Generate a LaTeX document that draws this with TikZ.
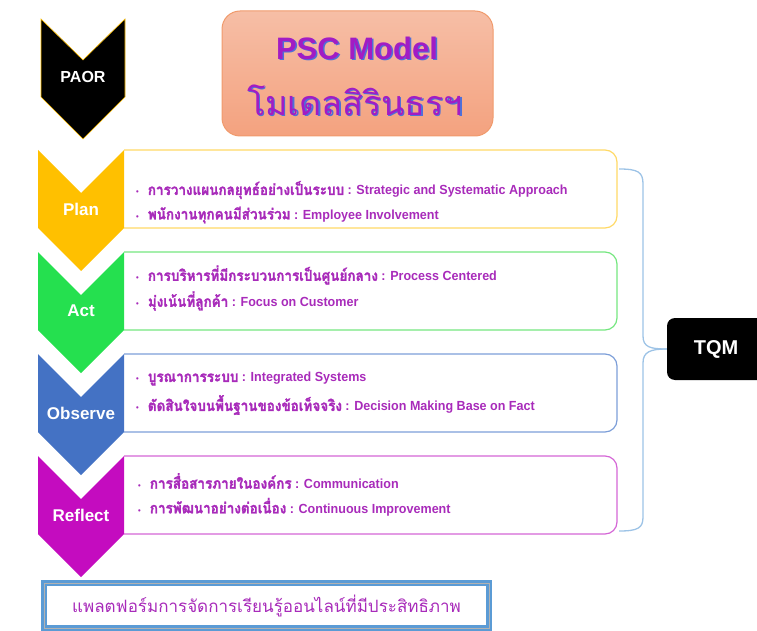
\documentclass[tikz,border=0pt]{standalone}
\usepackage{fontspec}
\setmainfont{Liberation Sans}
\newfontfamily\thaifont[Script=Thai]{Loma}
\newfontfamily\narrowfont[FakeStretch=0.95]{Liberation Sans}
\newfontfamily\thainarrow[Script=Thai,FakeStretch=0.9,FakeBold=1.6]{Loma}
\usetikzlibrary{positioning}
\definecolor{txtpurple}{HTML}{A82BBA}
\definecolor{titlepurple}{HTML}{A21CC4}
\definecolor{shadowblue}{HTML}{4F6FD8}
\definecolor{titletop}{HTML}{F6BEA6}
\definecolor{titlebot}{HTML}{F4A27F}
\definecolor{titleline}{HTML}{F09A6C}
\definecolor{planfill}{HTML}{FFC000}
\definecolor{planline}{HTML}{FFD966}
\definecolor{actfill}{HTML}{25E04F}
\definecolor{actline}{HTML}{74E67F}
\definecolor{obsfill}{HTML}{4472C4}
\definecolor{obsline}{HTML}{7C9ED8}
\definecolor{reflfill}{HTML}{C40CBF}
\definecolor{reflline}{HTML}{D466D6}
\definecolor{bracecol}{HTML}{9DC3E6}
\definecolor{platblue}{HTML}{5B9BD5}
\newcommand{\bitem}[2]{{\fontsize{8}{8}\selectfont\textbullet}\hspace{9pt}{\thainarrow\fontsize{15}{15}\selectfont #1} : #2}

\begin{document}
\begin{tikzpicture}[x=1pt, y=-1pt,
    stage/.style={text=white, font=\fontsize{17}{17}\selectfont\bfseries},
    item/.style={anchor=west, inner sep=0pt, text=txtpurple, font=\narrowfont\fontsize{13.2}{14}\selectfont\bfseries},
    brace/.style={draw=bracecol, line width=1.3pt},
    titlebox/.style={draw=titleline, line width=1pt, rounded corners=18pt, top color=titletop, bottom color=titlebot, minimum width=271pt, minimum height=125pt}]
  \useasboundingbox (0,0) rectangle (757,631);
  % PAOR head and model title
  \filldraw[fill=black, draw=planfill, line width=0.6pt] (41,19) -- (83,60) -- (125,19) -- (125,97) -- (83,139) -- (41,97) -- cycle;
  \node[stage, font=\fontsize{16}{16}\selectfont\bfseries] (paor) at (83,77) {PAOR};
  \node[titlebox] (title) at (357.5,73.5) {};
  \node[text=shadowblue, font=\fontsize{31}{31}\selectfont\bfseries] (pscshadow) at (358.5,49.5) {PSC Model};
  \node[text=titlepurple, font=\fontsize{31}{31}\selectfont\bfseries] (psc) at (357,48) {PSC Model};
  \node[text=shadowblue, font=\thaifont\fontsize{34}{34}\selectfont] (sirinshadow) at (356.5,101.5) {โมเดลสิรินธรฯ};
  \node[text=titlepurple, font=\thaifont\fontsize{34}{34}\selectfont] (sirin) at (355,100) {โมเดลสิรินธรฯ};
  % four stages: box first, chevron on top
  \foreach \nm/\lbl/\T/\fc/\bc in {plan/Plan/150/planfill/planline, act/Act/252/actfill/actline,
      obs/Observe/354/obsfill/obsline, refl/Reflect/456/reflfill/reflline} {
    \draw[line width=1.2pt, draw=\bc, rounded corners=12pt] (124,\T) -- (617,\T) -- (617,\T+78) -- (124,\T+78);
    \fill[\fc] (38,\T) -- (81,\T+43) -- (124,\T) -- (124,\T+78) -- (81,\T+121) -- (38,\T+78) -- cycle;
    \node[stage] (\nm) at (81,\T+59) {\lbl};
  }
  \node[item] (plana) at (136,190) {\bitem{การวางแผนกลยุทธ์อย่างเป็นระบบ}{Strategic and Systematic Approach}};
  \node[item] (planb) at (136,215) {\bitem{พนักงานทุกคนมีส่วนร่วม}{Employee Involvement}};
  \node[item] (acta) at (136,275) {\bitem{การบริหารที่มีกระบวนการเป็นศูนย์กลาง}{Process Centered}};
  \node[item] (actb) at (136,301) {\bitem{มุ่งเน้นที่ลูกค้า}{Focus on Customer}};
  \node[item] (obsa) at (136,379) {\bitem{บูรณาการระบบ}{Integrated Systems}};
  \node[item] (obsb) at (136,405) {\bitem{ตัดสินใจบนพื้นฐานของข้อเท็จจริง}{Decision Making Base on Fact}};
  \node[item] (refla) at (138,481) {\bitem{การสื่อสารภายในองค์กร}{Communication}};
  \node[item] (reflb) at (138,507) {\bitem{การพัฒนาอย่างต่อเนื่อง}{Continuous Improvement}};
  % TQM and its bracket
  \node[fill=black, rounded corners=8pt, minimum width=98pt, minimum height=62pt, text=white,
    font=\fontsize{20}{20}\selectfont\bfseries] (tqm) at (716,349) {TQM};
  \coordinate (bt) at (619,169);
  \coordinate (bb) at (619,531);
  \draw[brace] (bt) .. controls (638,169) and (643,172) .. (643,184) -- (643,336)
    .. controls (643,347) and (650,349) .. (tqm.west);
  \draw[brace] (tqm.west) .. controls (650,349) and (643,352) .. (643,363) -- (643,517)
    .. controls (643,528) and (638,531) .. (bb);
  % platform box
  \node[draw=platblue, line width=6pt, fill=white, minimum width=445pt, minimum height=45pt,
    text=txtpurple, font=\thaifont\fontsize{17}{17}\selectfont] (plat) at (266.5,605.5) {แพลตฟอร์มการจัดการเรียนรู้ออนไลน์ที่มีประสิทธิภาพ};
  \draw[gray!60, line width=0.6pt] ([shift={(3,3)}]plat.north west) rectangle ([shift={(-3,-3)}]plat.south east);
\end{tikzpicture}
\end{document}
